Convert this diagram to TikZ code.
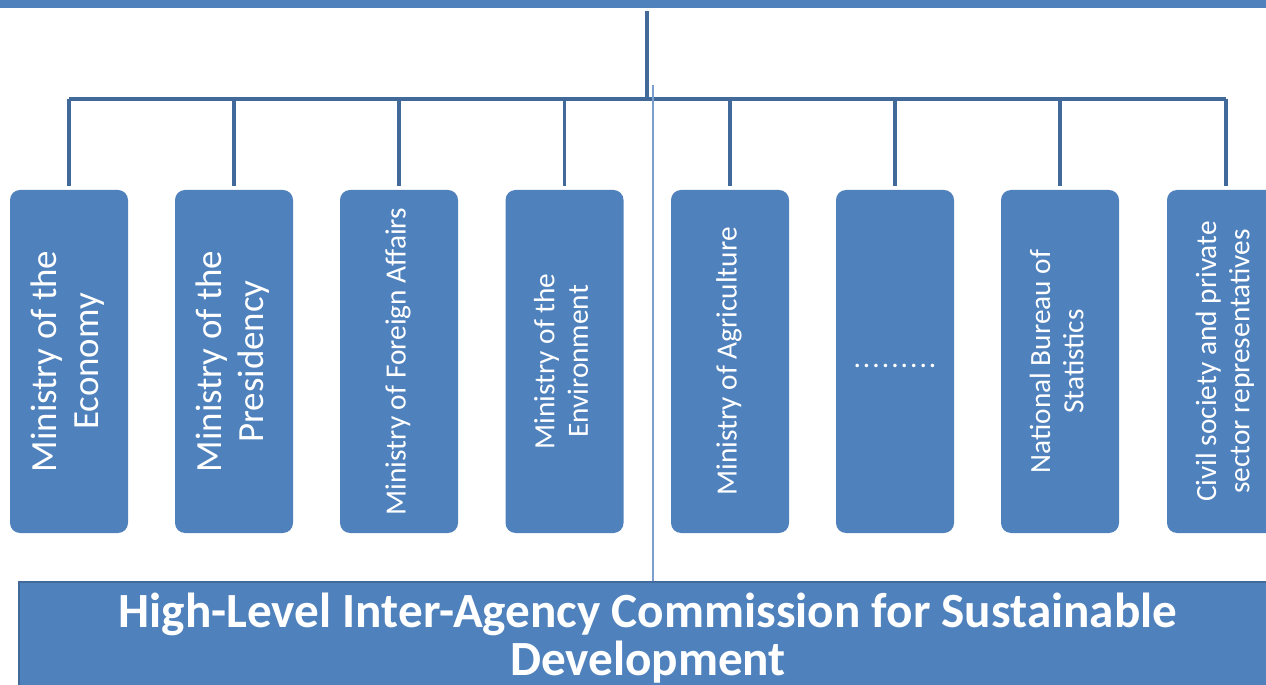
\documentclass[tikz,border=0pt]{standalone}
\usepackage{fontspec}
\usepackage{graphicx}
\setmainfont{Carlito}
\definecolor{boxblue}{HTML}{4F81BD}
\definecolor{lineblue}{HTML}{41699A}
\definecolor{thinblue}{HTML}{7A9FCF}
\newcommand{\sidelabel}[1]{\rotatebox{90}{\begin{tabular}{@{}c@{}}#1\end{tabular}}}
\begin{document}
\begin{tikzpicture}[
    link/.style={draw=lineblue, line width=2.2pt},
    unit/.style={fill=boxblue, rounded corners=0.2cm, minimum width=2.36cm, minimum height=6.86cm, text=white, inner sep=0pt},
    big/.style={font=\fontsize{21}{24}\selectfont},
    small/.style={font=\fontsize{16.7}{19}\selectfont}
]
    \useasboundingbox (0,0) rectangle (25.32,13.68);

    \node[fill=boxblue, minimum width=25.32cm, minimum height=0.6cm, anchor=south west, inner sep=0pt] (head) at (0,13.52) {};

    \node[unit, big] (eco) at (1.38,6.45) {\sidelabel{Ministry of the\\Economy}};
    \node[unit, big] (pres) at (4.68,6.45) {\sidelabel{Ministry of the\\Presidency}};
    \node[unit, small] (fa) at (7.98,6.45) {\sidelabel{Ministry of Foreign Affairs}};
    \node[unit, small] (env) at (11.29,6.45) {\sidelabel{Ministry of the\\Environment}};
    \node[unit, small] (agr) at (14.60,6.45) {\sidelabel{Ministry of Agriculture}};
    \node[unit, small] (etc) at (17.90,6.45) {\raisebox{-0.26cm}{\makebox[1.66cm]{.\hfill.\hfill.\hfill.\hfill.\hfill.\hfill.\hfill.\hfill.}}};
    \node[unit, small] (nbs) at (21.20,6.45) {\sidelabel{National Bureau of\\Statistics}};
    \node[unit, small] (civ) at (24.52,6.45) {\sidelabel{Civil society and private\\sector representatives}};

    \node[fill=boxblue, draw=lineblue, line width=1.6pt, minimum width=25.16cm, minimum height=2.24cm,
        text=white, align=center, font=\bfseries\fontsize{28}{27.6}\selectfont] (hlc) at (12.96,0.92)
        {High-Level Inter-Agency Commission for Sustainable\\Development};

    % tree from the top node
    \coordinate (bus) at (12.94,11.70);
    \draw[link] ([yshift=-0.06cm]head.south -| bus) -- (bus);
    \draw[link] (eco.north |- bus) -- (civ.north |- bus);
    \draw[link, shorten >=0.08cm] (eco.north |- bus) -- (eco.north);
    \draw[link, shorten >=0.08cm] (pres.north |- bus) -- (pres.north);
    \draw[link, shorten >=0.08cm] (fa.north |- bus) -- (fa.north);
    \draw[link, shorten >=0.08cm] (env.north |- bus) -- (env.north);
    \draw[link, shorten >=0.08cm] (agr.north |- bus) -- (agr.north);
    \draw[link, shorten >=0.08cm] (etc.north |- bus) -- (etc.north);
    \draw[link, shorten >=0.08cm] (nbs.north |- bus) -- (nbs.north);
    \draw[link, shorten >=0.08cm] (civ.north |- bus) -- (civ.north);

    \coordinate (tick) at (13.06,11.98);
    \draw[thinblue, line width=0.9pt] (tick) -- (tick |- hlc.north);
\end{tikzpicture}
\end{document}
